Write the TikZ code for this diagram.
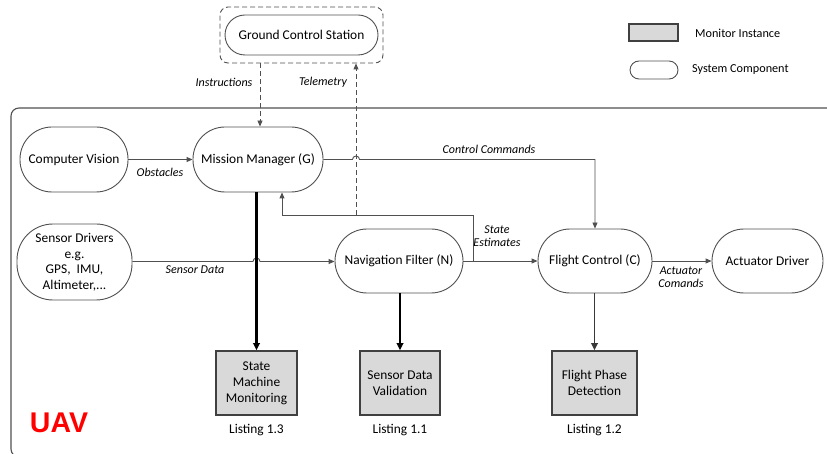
\documentclass[tikz,border=0pt]{standalone}
\usepackage{fontspec}
\setmainfont{Carlito}
\newfontfamily\uavfont{Liberation Sans}
\usetikzlibrary{arrows.meta,positioning}
\definecolor{edgegray}{HTML}{505050}
\definecolor{boxgray}{HTML}{D9D9D9}
\definecolor{uavred}{HTML}{FF0000}
\tikzset{
  comp/.style={draw=edgegray,line width=0.9pt,fill=white,align=center,inner sep=0pt,
    font=\fontsize{13.4}{16}\selectfont},
  monitor/.style={draw=edgegray!80!black,line width=1.6pt,fill=boxgray,align=center,inner sep=0pt,
    font=\fontsize{13.4}{16}\selectfont},
  conn/.style={draw=edgegray,line width=0.9pt,-{Triangle[length=6pt,width=5pt]}},
  thick conn/.style={draw=black,line width=2.2pt,-{Triangle[length=7pt,width=6.5pt]}},
  dashconn/.style={draw=edgegray,line width=0.9pt,dash pattern=on 5pt off 3pt,-{Triangle[length=6pt,width=5pt]}},
  lbl/.style={font=\fontsize{12}{14}\selectfont\itshape,align=center,inner sep=0pt},
  note/.style={font=\fontsize{13.4}{16}\selectfont,inner sep=0pt},
  legendtext/.style={font=\fontsize{12.2}{14}\selectfont,inner sep=0pt,anchor=west},
}
\begin{document}
\begin{tikzpicture}[x=1pt,y=-1pt]
\useasboundingbox (0,0) rectangle (827,454);
\begin{scope}
\clip (0,0) rectangle (827,454);
\draw[edgegray,line width=1.1pt,rounded corners=8pt] (11,108) rectangle (860,457);
\end{scope}
\node[font=\uavfont\bfseries\fontsize{28.5}{30}\selectfont,text=uavred,inner sep=0pt] (uav) at (59,423) {UAV};

% ground control station
\node[draw=edgegray,line width=0.9pt,dash pattern=on 5pt off 3pt,rounded corners=8pt,minimum width=163pt,minimum height=56pt] (gcsbox) at (301.5,35) {};
\node[comp,rounded corners=20pt,minimum width=153pt,minimum height=40pt] (gcs) at (301.5,35) {Ground Control Station};

% components
\node[comp,rounded corners=32pt,minimum width=108pt,minimum height=65pt] (cv) at (74,159.5) {Computer Vision};
\node[comp,rounded corners=32pt,minimum width=130pt,minimum height=65pt] (mm) at (258,159.5) {Mission Manager (G)};
\node[comp,rounded corners=36pt,minimum width=115pt,minimum height=76pt,font=\fontsize{13.4}{15.5}\selectfont] (sd) at (74.5,262) {Sensor Drivers\\e.g.\\GPS,\ \ IMU,\\Altimeter,...};
\node[comp,rounded corners=32pt,minimum width=128pt,minimum height=64pt] (nf) at (399,261) {Navigation Filter (N)};
\node[comp,rounded corners=32pt,minimum width=114pt,minimum height=64pt] (fc) at (595,261) {Flight Control (C)};
\node[comp,rounded corners=32pt,minimum width=111pt,minimum height=64pt] (ad) at (767.5,261) {Actuator Driver};

% monitors
\node[monitor,minimum width=81pt,minimum height=64pt] (smm) at (256.5,383) {State\\Machine\\Monitoring};
\node[monitor,minimum width=80pt,minimum height=64pt] (sdv) at (400,383) {Sensor Data\\Validation};
\node[monitor,minimum width=85pt,minimum height=64pt] (fpd) at (594.5,383) {Flight Phase\\Detection};
\node[note] (l13) at (256.5,430) {Listing 1.3};
\node[note] (l11) at (400,430) {Listing 1.1};
\node[note] (l12) at (594.5,430) {Listing 1.2};

% legend
\node[draw=edgegray!80!black,line width=1.6pt,fill=boxgray,minimum width=49pt,minimum height=17pt,inner sep=0pt] (legmon) at (653.5,32.5) {};
\node[legendtext] (legmontext) at (695,33) {Monitor Instance};
\node[draw=edgegray,line width=0.9pt,rounded corners=9pt,minimum width=48pt,minimum height=18pt,inner sep=0pt] (legcomp) at (654,70) {};
\node[legendtext] (legcomptext) at (692,70) {System Component};

% coordinates
\coordinate (fbstart) at (473,261);
\coordinate (fbcorner) at (473,215);
\coordinate (telstart) at (356,215);

% connectors
\draw[dashconn] (gcsbox.south -| 260,0) -- (mm.north -| 260,0);
\draw[dashconn] (telstart) -- (gcsbox.south -| telstart);
\node[lbl] (instr) at (224,82) {Instructions};
\node[lbl] (telem) at (323,82) {Telemetry};

\draw[conn] (cv.east) -- (mm.west);
\node[lbl] (obst) at (160,172) {Obstacles};

\draw[conn] (mm.east) -- (352.5,159.5) arc[start angle=180,end angle=360,radius=3.5] -- (595,159.5) -- (fc.north);
\node[lbl] (cc) at (489,149) {Control Commands};

\draw[conn] (sd.east |- 0,261.5) -- (253,261.5) arc[start angle=180,end angle=360,radius=3.5] -- (nf.west |- 0,261.5);
\node[lbl] (sdl) at (195,270) {Sensor Data};

\draw[conn] (nf.east) -- (fc.west);
\draw[conn] (fbstart) -- (fbcorner) -| (mm.south -| 282,0);
\node[lbl] (se) at (497,236) {State\\[-1pt]Estimates};

\draw[conn] (fc.east) -- (ad.west);
\node[lbl] (acl) at (681,277) {Actuator\\[-1pt]Comands};

\draw[thick conn] (mm.south -| 256.5,0) -- (smm.north);
\draw[thick conn] (nf.south -| sdv.north) -- (sdv.north);
\draw[thick conn,draw=edgegray!70!black,line width=1.8pt] (fc.south -| fpd.north) -- (fpd.north);
\end{tikzpicture}
\end{document}
